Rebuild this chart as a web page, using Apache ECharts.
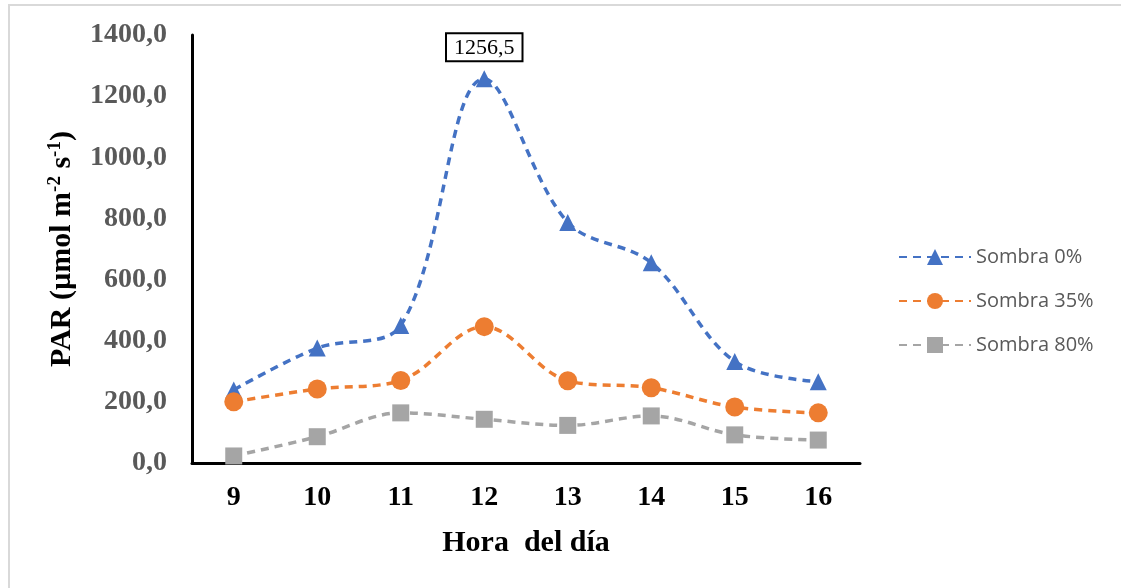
<!DOCTYPE html>
<html>
<head>
<meta charset="utf-8">
<script src="https://cdn.jsdelivr.net/npm/echarts@6/dist/echarts.min.js"></script>
<style>
  html, body { margin: 0; padding: 0; background: #ffffff; }
  #chart { width: 1121px; height: 588px; }
</style>
</head>
<body>
<div id="chart"></div>
<script>
// Hours of the day (x categories)
const hours = ['9', '10', '11', '12', '13', '14', '15', '16'];

// PAR readings per shade level
const sombra0 = [239, 376, 450, 1256.5, 787, 655, 332, 266];
const sombra35 = [200, 242, 270, 446, 269, 246, 183, 164];
const sombra80 = [23, 86, 164, 143, 123, 154, 92, 75];

const seriesNames = ['Sombra 0%', 'Sombra 35%', 'Sombra 80%'];
const yTicks = { min: 0, max: 1400, interval: 200 };

const serif = '"Liberation Serif", "Times New Roman", serif';
const sans = '"Open Sans", "Noto Sans", sans-serif';

const chart = echarts.init(document.getElementById('chart'));

function lineSeries(name, data, color, symbol, size) {
  return {
    name: name,
    type: 'line',
    data: data,
    smooth: 0.35,
    symbol: symbol,
    symbolSize: size,
    itemStyle: { color: color },
    lineStyle: { color: color, width: 3.5, type: [8, 6] },
    z: 3
  };
}

const s0 = lineSeries(seriesNames[0], sombra0, '#4472C4', 'triangle', 17);
// Peak value callout
const peak = Math.max.apply(null, sombra0);
s0.data = sombra0.map(function (v) {
  if (v !== peak) return v;
  return {
    value: v,
    label: {
      show: true,
      position: 'top',
      distance: 10,
      formatter: function (p) { return String(p.value).replace('.', ','); },
      fontFamily: serif,
      fontSize: 22,
      lineHeight: 22,
      color: '#000',
      borderColor: '#000',
      borderWidth: 2,
      padding: [3, 7, 1, 7],
      backgroundColor: '#fff'
    }
  };
});

chart.setOption({
  animation: false,
  backgroundColor: '#ffffff',
  graphic: [{
    type: 'polyline',
    shape: { points: [[9, 588], [9, 5], [1121, 5]] },
    style: { stroke: '#d9d9d9', lineWidth: 2, fill: null },
    silent: true
  }],
  grid: { left: 192, right: 261, top: 35, bottom: 125, containLabel: false },
  legend: {
    orient: 'vertical',
    left: 893,
    top: 242,
    itemGap: 24,
    itemWidth: 72,
    itemHeight: 20,
    textStyle: { fontFamily: sans, fontSize: 20, color: '#595959' },
    data: seriesNames
  },
  xAxis: {
    type: 'category',
    data: hours,
    boundaryGap: true,
    axisLine: { lineStyle: { color: '#000', width: 3 } },
    axisTick: { show: false },
    axisLabel: {
      margin: 21,
      fontFamily: serif, fontWeight: 'bold', fontSize: 28, color: '#000'
    },
    name: 'Hora  del día',
    nameLocation: 'middle',
    nameGap: 65,
    nameTextStyle: { fontFamily: serif, fontWeight: 'bold', fontSize: 30, color: '#000' }
  },
  yAxis: {
    type: 'value',
    min: yTicks.min,
    max: yTicks.max,
    interval: yTicks.interval,
    splitLine: { show: false },
    axisLine: { show: true, lineStyle: { color: '#000', width: 3 } },
    axisTick: { show: false },
    axisLabel: {
      margin: 25,
      formatter: function (v) { return v.toFixed(1).replace('.', ','); },
      fontFamily: serif, fontWeight: 'bold', fontSize: 28, color: '#595959'
    },
    name: '{t|PAR (µmol m}{s|-2}{t| s}{s|-1}{t|)}',
    nameLocation: 'middle',
    nameRotate: 90,
    nameGap: 113,
    nameTextStyle: {
      rich: {
        t: { fontFamily: serif, fontWeight: 'bold', fontSize: 30, color: '#000' },
        s: { fontFamily: serif, fontWeight: 'bold', fontSize: 19, color: '#000', verticalAlign: 'top', padding: [0, 0, 14, 0] }
      }
    }
  },
  series: [
    s0,
    lineSeries(seriesNames[1], sombra35, '#ED7D31', 'circle', 19),
    lineSeries(seriesNames[2], sombra80, '#A5A5A5', 'rect', 17)
  ]
});
</script>
</body>
</html>
